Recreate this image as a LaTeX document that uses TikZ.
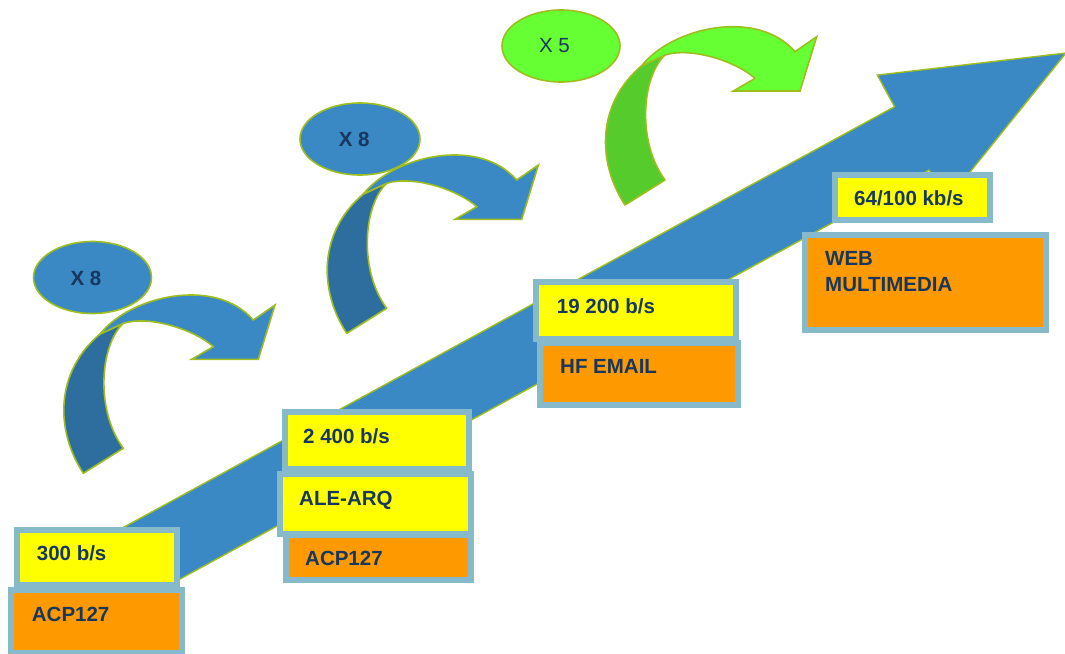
\documentclass[tikz,border=0pt]{standalone}
\usepackage{fontspec}
\setmainfont{Liberation Sans}
\definecolor{bluefill}{HTML}{3A88C4}
\definecolor{bluedark}{HTML}{2E6E9E}
\definecolor{greenfill}{HTML}{66FF33}
\definecolor{greendark}{HTML}{55CC2B}
\definecolor{edgegreen}{HTML}{9DBE1E}
\definecolor{boxedge}{HTML}{86B9C9}
\definecolor{yel}{HTML}{FFFF00}
\definecolor{ora}{HTML}{FF9900}
\definecolor{navy}{HTML}{17375E}
\newcommand\curvedarr[4]{%
  \begin{scope}[shift={(#1,#2)}]
    \fill[#4, draw=edgegreen, line width=1.6pt, line join=round]
      (83.3,473.3) .. controls (55,430) and (55,372) .. (100,334)
      -- (123.3,323.3) .. controls (100,345) and (95,410) .. (123.3,448.3) -- cycle;
    \fill[#3, draw=edgegreen, line width=1.6pt, line join=miter]
      (100,334) .. controls (130,296) and (215,276) .. (253.3,320)
      -- (275,305) -- (258.3,359.3) -- (191.7,359.3) -- (213.3,346.7)
      .. controls (195,330) and (150,315) .. (123.3,323.3) -- cycle;
  \end{scope}}
\tikzset{
  boxline/.style={draw=boxedge, line width=6pt},
  lbl/.style={anchor=base west, inner sep=0pt, text=navy, font=\bfseries\fontsize{20.5}{25}\selectfont},
  ell/.style={ellipse, draw=edgegreen, line width=1.6pt, inner sep=0pt},
  elltext/.style={inner sep=0pt, text=navy, font=\fontsize{20.5}{25}\selectfont}
}
\usetikzlibrary{shapes.geometric}
\begin{document}
\begin{tikzpicture}[x=1pt,y=-1pt]
\useasboundingbox (0,0) rectangle (1065,653);
\begin{scope}
\clip (0,0) rectangle (1065,653);
% big arrow
\fill[bluefill, draw=edgegreen, line width=1.4pt]
  (104.4,537.8) -- (894.6,106.7) -- (877.3,75.1) -- (1066,53)
  -- (946.3,201.5) -- (929.1,170) -- (139,601.4) -- cycle;
% curved arrows
\curvedarr{0}{0}{bluefill}{bluedark}
\curvedarr{263.4}{-140}{bluefill}{bluedark}
\curvedarr{541.7}{-268.3}{greenfill}{greendark}
% ellipses
\node[ell, fill=bluefill, minimum width=118pt, minimum height=72pt] (e1) at (92.5,277.5) {};
\node[elltext, font=\bfseries\fontsize{20.5}{25}\selectfont] (t1) at (86,278) {X 8};
\node[ell, fill=bluefill, minimum width=120pt, minimum height=72pt] (e2) at (360,139) {};
\node[elltext, font=\bfseries\fontsize{20.5}{25}\selectfont] (t2) at (354.2,139.2) {X 8};
\node[ell, fill=greenfill, minimum width=118pt, minimum height=72pt] (e3) at (561,46) {};
\node[elltext] (t3) at (554.5,46) {X 5};
% boxes group 1
\draw[boxline, fill=yel] (17,530) rectangle (177,585);
\draw[boxline, fill=ora] (11.3,590.3) rectangle (182,653);
\node[lbl] (b1) at (36.7,560) {300 b/s};
\node[lbl] (c1) at (31.7,621.7) {ACP127};
% group 2
\draw[boxline, fill=yel] (284.7,412.3) rectangle (468.7,468.7);
\draw[boxline, fill=yel] (279.7,473.7) rectangle (471,534.3);
\draw[boxline, fill=ora] (285.7,534.7) rectangle (471,579.7);
\node[lbl] (b2) at (303,443) {2 400 b/s};
\node[lbl] (a2) at (299,505) {ALE-ARQ};
\node[lbl] (c2) at (305,565) {ACP127};
% group 3
\draw[boxline, fill=yel] (536.3,282.3) rectangle (736.3,338.7);
\draw[boxline, fill=ora] (540.3,343) rectangle (737.7,405.3);
\node[lbl] (b3) at (556.7,313) {19 200 b/s};
\node[lbl] (c3) at (560,373) {HF EMAIL};
% group 4
\draw[boxline, fill=yel] (834.7,174.7) rectangle (990.3,219.7);
\draw[boxline, fill=ora] (804.7,234.7) rectangle (1046.3,329.7);
\node[lbl] (b4) at (854,205) {64/100 kb/s};
\node[lbl] (c4) at (825,265) {WEB};
\node[lbl] (d4) at (825,291.7) {MULTIMEDIA};
\end{scope}
\end{tikzpicture}
\end{document}
